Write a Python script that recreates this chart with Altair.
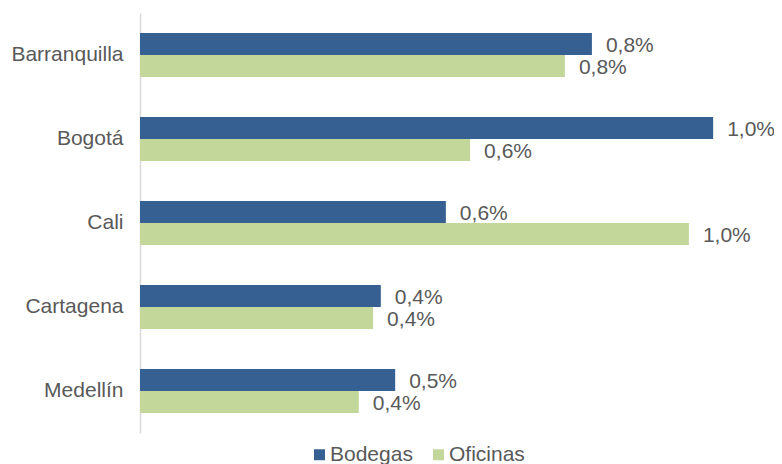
import altair as alt
import pandas as pd

cities = ["Barranquilla", "Bogotá", "Cali", "Cartagena", "Medellín"]
series = ["Bodegas", "Oficinas"]
bodegas = [0.820, 1.040, 0.555, 0.437, 0.463]
oficinas = [0.771, 0.599, 0.996, 0.423, 0.397]
colors = ["#376092", "#C4D79B"]

rows = []
for c, b, o in zip(cities, bodegas, oficinas):
    rows.append({"ciudad": c, "tipo": "Bodegas", "valor": b})
    rows.append({"ciudad": c, "tipo": "Oficinas", "valor": o})
df = pd.DataFrame(rows)
df["etiqueta"] = df["valor"].map(lambda v: f"{v:.1f}".replace(".", ",") + "%")

FONT = "Liberation Sans"
GRAY = "#595959"

base = alt.Chart(df).encode(
    y=alt.Y("ciudad:N", sort=cities, title=None,
            scale=alt.Scale(paddingInner=0.476, paddingOuter=0.238),
            axis=alt.Axis(ticks=False, domainColor="#D9D9D9", domainWidth=1.5,
                          labelFontSize=21, labelColor=GRAY, labelFont=FONT,
                          labelPadding=17)),
    yOffset=alt.YOffset("tipo:N", sort=series, scale=alt.Scale(paddingInner=0, paddingOuter=0)),
)

bars = base.mark_bar().encode(
    x=alt.X("valor:Q", scale=alt.Scale(domain=[0, 1.125], nice=False), axis=None),
    color=alt.Color("tipo:N", sort=series,
                    scale=alt.Scale(domain=series, range=colors),
                    legend=alt.Legend(title=None, orient="none", legendX=169, legendY=431,
                                      direction="horizontal", symbolType="square",
                                      symbolSize=121, symbolStrokeWidth=0,
                                      labelFontSize=21, labelFont=FONT, labelColor=GRAY,
                                      columnPadding=15, symbolOffset=0, labelOffset=0)),
)

labels = base.mark_text(align="left", baseline="middle", dx=14, dy=2,
                        fontSize=21, font=FONT, color=GRAY).encode(
    x=alt.X("valor:Q"),
    text="etiqueta:N",
)

chart = alt.layer(bars, labels).properties(
    width=620, height=420,
    autosize=alt.AutoSizeParams(type="none"),
    padding={"left": 132, "top": 5, "right": 14, "bottom": 40},
).configure_view(stroke=None)

chart.save("out.html", embed_options={"renderer": "svg", "actions": False})
